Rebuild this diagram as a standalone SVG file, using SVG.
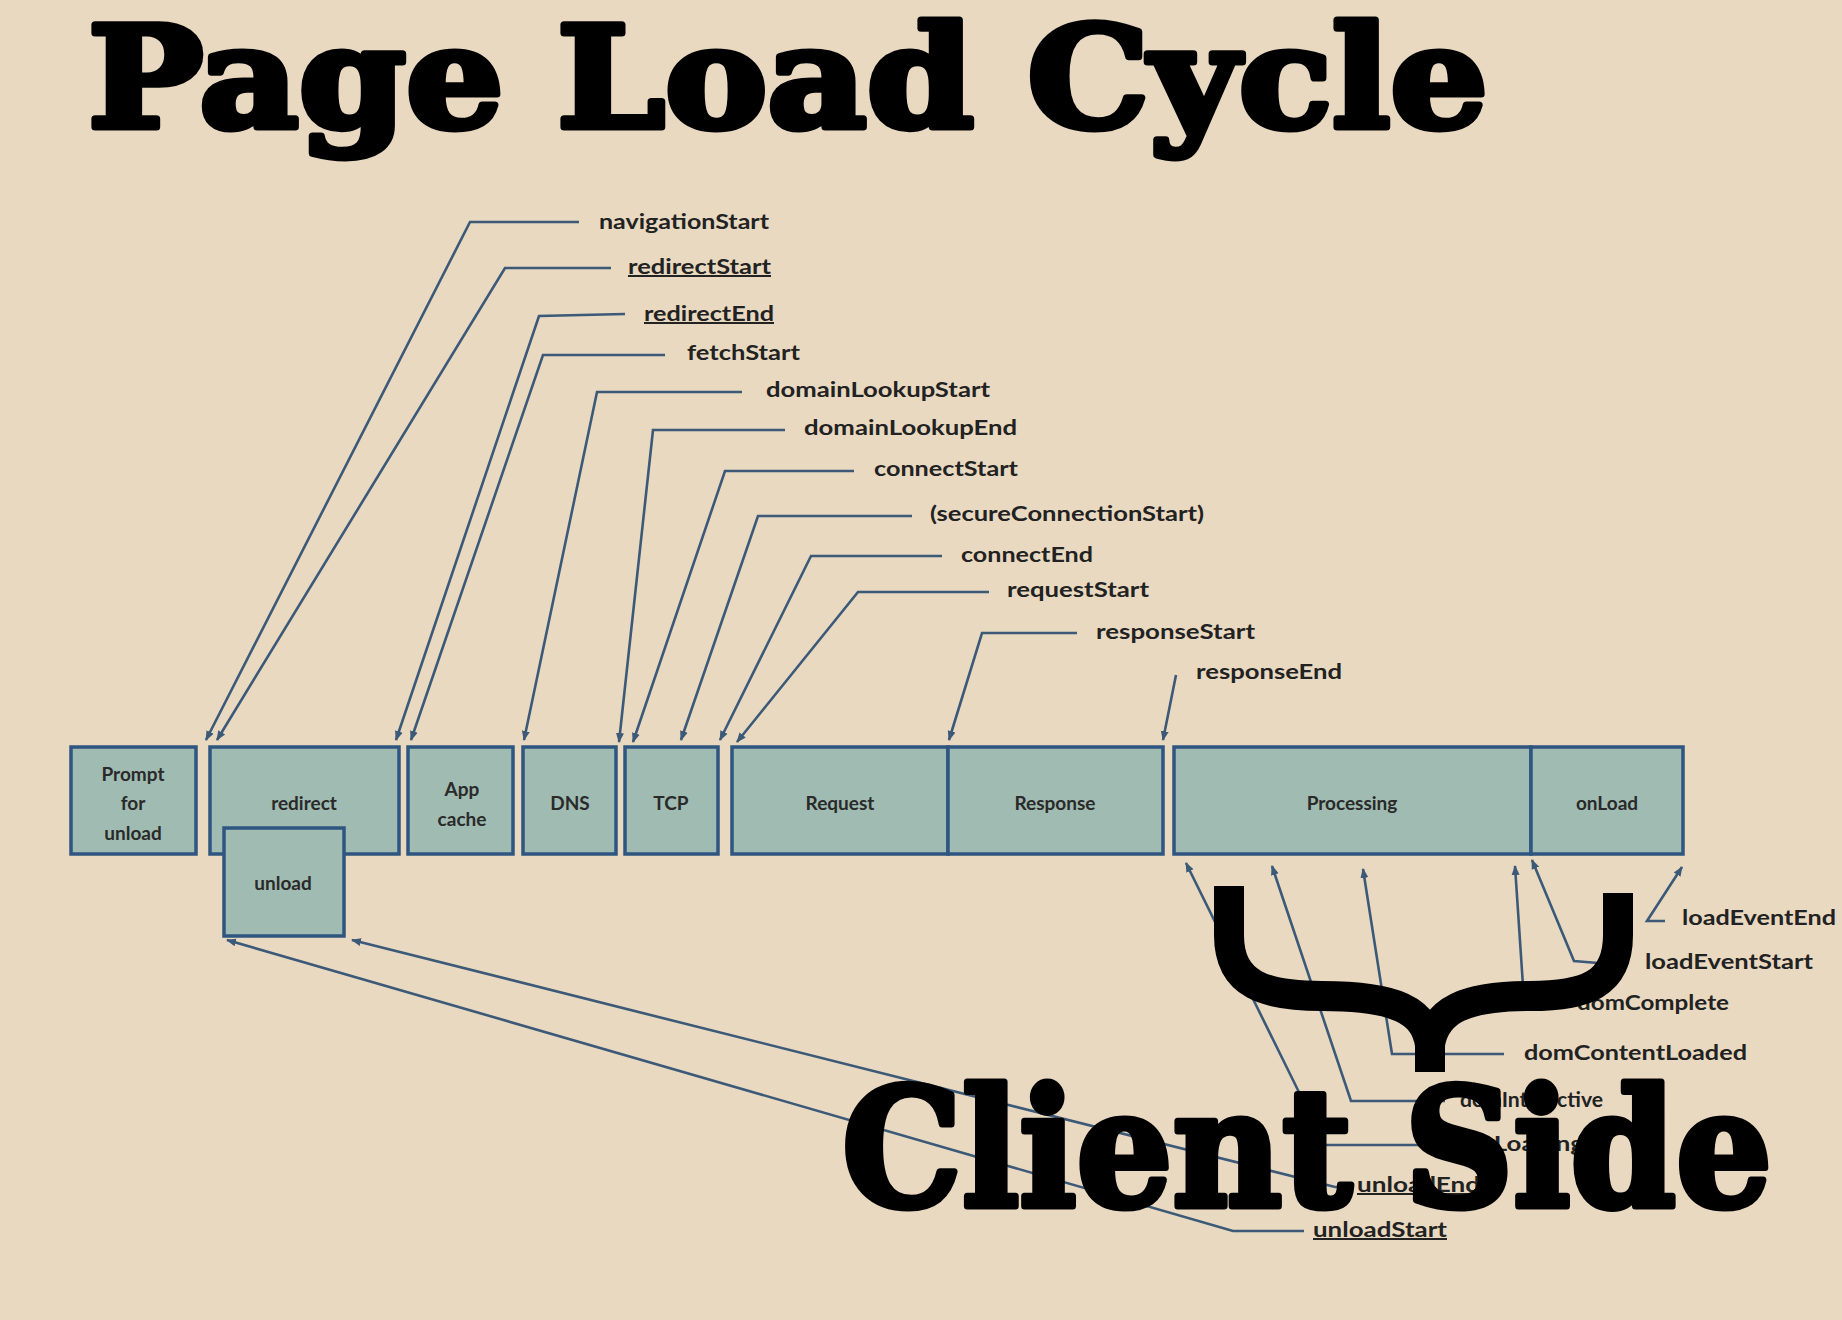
<svg xmlns="http://www.w3.org/2000/svg" width="1842" height="1320" viewBox="0 0 1842 1320">
<defs>
<style>
.bg{fill:#E9D9C1}
.box{fill:#A0BBB1;stroke:#2E5680;stroke-width:3.5}
.bt{font-family:Lato,"Open Sans","Liberation Sans",sans-serif;font-weight:700;font-size:19px;fill:#2a2a2a;text-anchor:middle;dominant-baseline:central}
.lbl{font-family:Lato,"Open Sans","Liberation Sans",sans-serif;font-weight:700;font-size:20px;fill:#222}
.u{text-decoration:underline}
.conn path{fill:none;stroke:#3C5A78;stroke-width:2.6;marker-end:url(#ah)}
.big{font-family:"DejaVu Serif","Liberation Serif",serif;font-weight:900;fill:#000;stroke:#000;stroke-width:7;stroke-linejoin:round}
</style>
<marker id="ah" viewBox="0 0 10 10" refX="9" refY="5" markerWidth="10" markerHeight="10" markerUnits="userSpaceOnUse" orient="auto">
<path d="M0,1 L10,5 L0,9 z" fill="#3C5A78"/>
</marker>
</defs>
<rect class="bg" x="0" y="0" width="1842" height="1320"/>

<g id="connectors" class="conn">
<path d="M579,222 L470,222 L206,740"/>
<path d="M611,268 L505,268 L217,740"/>
<path d="M625,314 L539,316 L396,740"/>
<path d="M665,355 L543,355 L411,740"/>
<path d="M742,392 L597,392 L524,740"/>
<path d="M785,430 L653,430 L619,742"/>
<path d="M854,471 L725,471 L633,742"/>
<path d="M912,516 L758,516 L681,740"/>
<path d="M942,556 L811,556 L720,740"/>
<path d="M989,592 L858,592 L737,742"/>
<path d="M1077,633 L982,633 L949,740"/>
<path d="M1176,675 L1163,740"/>
<path d="M1665,921 L1647,921 L1682,867"/>
<path d="M1598,963 L1574,961 L1532,860"/>
<path d="M1568,1002 L1524,1001 L1515,866"/>
<path d="M1504,1054 L1392,1054 L1363,869"/>
<path d="M1445,1101 L1351,1101 L1272,866"/>
<path d="M1436,1145 L1325,1145 L1186,863"/>
<path d="M1350,1187 L1335,1187 L352,940"/>
<path d="M1304,1231 L1233,1231 L227,940"/>
</g>

<g id="node-prompt">
<rect class="box" x="71" y="747" width="125" height="107"/>
<text class="bt" x="133" y="773">Prompt</text>
<text class="bt" x="133" y="802">for</text>
<text class="bt" x="133" y="832">unload</text>
</g>
<g id="node-redirect">
<rect class="box" x="210" y="747" width="189" height="107"/>
<text class="bt" x="304" y="802">redirect</text>
</g>
<g id="node-unload">
<rect class="box" x="224" y="828" width="120" height="108"/>
<text class="bt" x="283" y="882">unload</text>
</g>
<g id="node-appcache">
<rect class="box" x="408" y="747" width="105" height="107"/>
<text class="bt" x="462" y="788">App</text>
<text class="bt" x="462" y="818">cache</text>
</g>
<g id="node-dns">
<rect class="box" x="523" y="747" width="93" height="107"/>
<text class="bt" x="570" y="802">DNS</text>
</g>
<g id="node-tcp">
<rect class="box" x="625" y="747" width="93" height="107"/>
<text class="bt" x="671" y="802">TCP</text>
</g>
<g id="node-request">
<rect class="box" x="732" y="747" width="216" height="107"/>
<text class="bt" x="840" y="802">Request</text>
</g>
<g id="node-response">
<rect class="box" x="948" y="747" width="215" height="107"/>
<text class="bt" x="1055" y="802">Response</text>
</g>
<g id="node-processing">
<rect class="box" x="1174" y="747" width="357" height="107"/>
<text class="bt" x="1352" y="802">Processing</text>
</g>
<g id="node-onload">
<rect class="box" x="1531" y="747" width="152" height="107"/>
<text class="bt" x="1607" y="802">onLoad</text>
</g>

<g id="labels">
<text class="lbl" x="599" y="229" textLength="170" lengthAdjust="spacingAndGlyphs">navigationStart</text>
<text class="lbl u" x="628" y="274" textLength="143" lengthAdjust="spacingAndGlyphs">redirectStart</text>
<text class="lbl u" x="644" y="321" textLength="130" lengthAdjust="spacingAndGlyphs">redirectEnd</text>
<text class="lbl" x="687" y="360" textLength="113" lengthAdjust="spacingAndGlyphs">fetchStart</text>
<text class="lbl" x="766" y="397" textLength="224" lengthAdjust="spacingAndGlyphs">domainLookupStart</text>
<text class="lbl" x="804" y="435" textLength="213" lengthAdjust="spacingAndGlyphs">domainLookupEnd</text>
<text class="lbl" x="874" y="476" textLength="144" lengthAdjust="spacingAndGlyphs">connectStart</text>
<text class="lbl" x="930" y="521" textLength="274" lengthAdjust="spacingAndGlyphs">(secureConnectionStart)</text>
<text class="lbl" x="961" y="562" textLength="132" lengthAdjust="spacingAndGlyphs">connectEnd</text>
<text class="lbl" x="1007" y="597" textLength="142" lengthAdjust="spacingAndGlyphs">requestStart</text>
<text class="lbl" x="1096" y="639" textLength="159" lengthAdjust="spacingAndGlyphs">responseStart</text>
<text class="lbl" x="1196" y="679" textLength="146" lengthAdjust="spacingAndGlyphs">responseEnd</text>
<text class="lbl" x="1682" y="925" textLength="154" lengthAdjust="spacingAndGlyphs">loadEventEnd</text>
<text class="lbl" x="1645" y="969" textLength="168" lengthAdjust="spacingAndGlyphs">loadEventStart</text>
<text class="lbl" x="1577" y="1010" textLength="152" lengthAdjust="spacingAndGlyphs">domComplete</text>
<text class="lbl" x="1524" y="1060" textLength="223" lengthAdjust="spacingAndGlyphs">domContentLoaded</text>
<text class="lbl" x="1460" y="1107" textLength="143" lengthAdjust="spacingAndGlyphs">domInteractive</text>
<text class="lbl" x="1443" y="1151" textLength="141" lengthAdjust="spacingAndGlyphs">domLoading</text>
<text class="lbl u" x="1357" y="1192" textLength="123" lengthAdjust="spacingAndGlyphs">unloadEnd</text>
<text class="lbl u" x="1313" y="1237" textLength="134" lengthAdjust="spacingAndGlyphs">unloadStart</text>
</g>

<g id="brace" fill="none" stroke="#000" stroke-width="30">
<path d="M1229,886 V935 C1229,985 1265,996 1322,996 C1395,996 1425,1010 1430,1045 V1072"/>
<path d="M1618,893 V935 C1618,985 1585,996 1530,996 C1465,996 1435,1010 1430,1045"/>
</g>

<text id="title" class="big" x="88" y="127" font-size="141" textLength="1400" lengthAdjust="spacingAndGlyphs">Page Load Cycle</text>
<text id="client-side" class="big" x="842" y="1206" font-size="162" textLength="930" lengthAdjust="spacingAndGlyphs">Client Side</text>
</svg>
